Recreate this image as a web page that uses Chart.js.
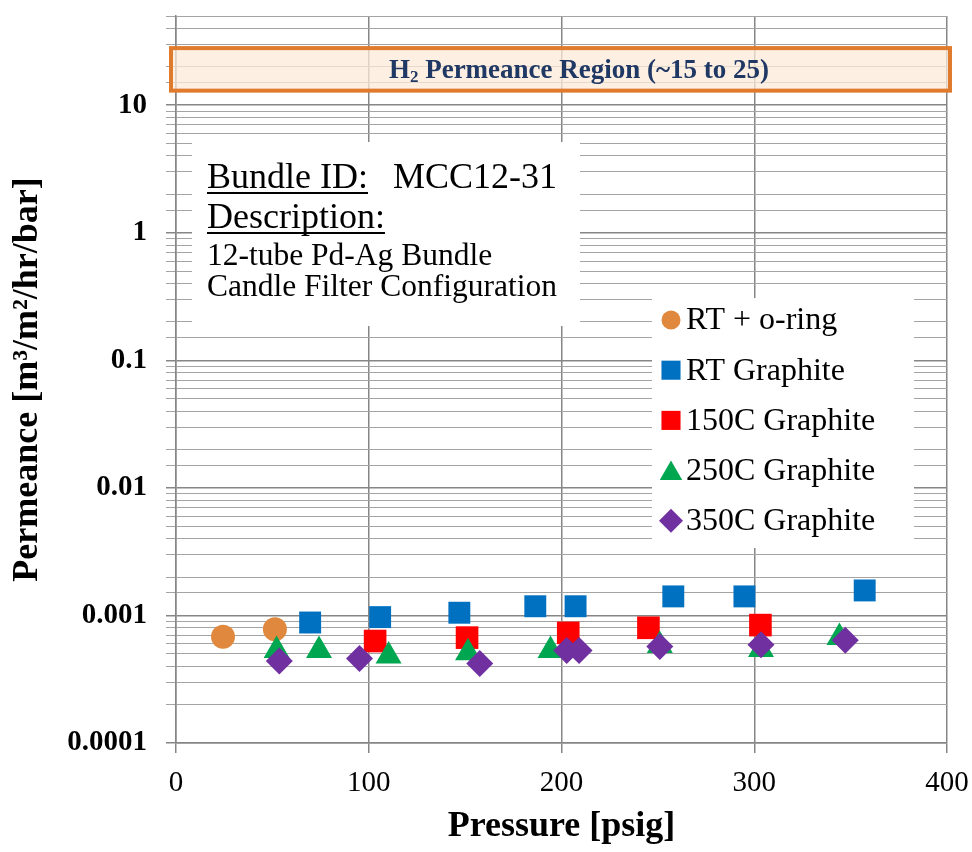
<!DOCTYPE html>
<html>
<head>
<meta charset="utf-8">
<script src="https://cdn.jsdelivr.net/npm/chart.js@4.4.1/dist/chart.umd.min.js"></script>
<style>
  body { margin: 0; background: #fff; }
  #wrap { width: 972px; height: 852px; }
</style>
</head>
<body>
<div id="wrap"><canvas id="chart" width="972" height="852"></canvas></div>
<script>
// Pressure [psig] / permeance readings per series
const oringX = [24.4, 51.3];
const oringY = [0.00068, 0.00078];
const rtGraphiteX = [69.6, 105.9, 147, 186.4, 207.3, 258, 294.9, 357.3];
const rtGraphiteY = [0.00088, 0.00097, 0.00105, 0.00118, 0.00118, 0.00141, 0.00141, 0.00157];
const g150X = [103.3, 151, 203.5, 245.1, 303.2];
const g150Y = [0.00063, 0.00067, 0.00073, 0.0008, 0.00084];
const g250X = [52.2, 74.2, 110.3, 151.5, 194.3, 251, 303.5, 344.2];
const g250Y = [0.00053, 0.00053, 0.00048, 0.00051, 0.00053, 0.00058, 0.00054, 0.00067];
const g350X = [53.6, 95.2, 157.6, 202.7, 209.1, 251, 303.5, 347.2];
const g350Y = [0.00044, 0.00046, 0.00042, 0.00053, 0.00053, 0.00057, 0.00059, 0.00064];

const seriesNames = ['RT + o-ring', 'RT Graphite', '150C Graphite', '250C Graphite', '350C Graphite'];
const yTickValues = [0.0001, 0.001, 0.01, 0.1, 1, 10];
const yTickLabels = ['0.0001', '0.001', '0.01', '0.1', '1', '10'];
const xTickValues = [0, 100, 200, 300, 400];

// H2 region band (permeance units)
const h2BandLow = 13;
const h2BandHigh = 28;
const h2BandText = 'Permeance Region (~15 to 25)';

const noteLines = ['Bundle ID:', 'MCC12-31', 'Description:', '12-tube Pd-Ag Bundle', 'Candle Filter Configuration'];

const SERIF = '"Liberation Serif", "Times New Roman", serif';

function pts(xs, ys) {
    return xs.map((x, i) => ({ x: x, y: ys[i] }));
}

function isDecade(v) {
    return yTickValues.some(t => Math.abs(v - t) / t < 1e-6);
}

// Annotation boxes + custom legend
const overlays = {
    id: 'overlays',
    beforeDatasetsDraw(chart) {
        const { ctx, chartArea, scales } = chart;
        const y = scales.y;
        ctx.save();

        // H2 permeance band
        const bTop = y.getPixelForValue(h2BandHigh);
        const bBot = y.getPixelForValue(h2BandLow);
        const bLeft = chartArea.left - 5;
        const bRight = chartArea.right + 3;
        ctx.fillStyle = 'rgba(253, 234, 218, 0.75)';
        ctx.fillRect(bLeft, bTop, bRight - bLeft, bBot - bTop);
        ctx.strokeStyle = '#E07A2C';
        ctx.lineWidth = 4;
        ctx.strokeRect(bLeft, bTop, bRight - bLeft, bBot - bTop);

        ctx.fillStyle = '#1F3864';
        ctx.textBaseline = 'alphabetic';
        const big = 'bold 27px ' + SERIF, small = 'bold 17px ' + SERIF;
        ctx.font = big;
        const hW = ctx.measureText('H').width;
        ctx.font = small;
        const subW = ctx.measureText('2').width;
        ctx.font = big;
        const restW = ctx.measureText(' ' + h2BandText).width;
        const total = hW + subW + restW;
        let tx = 579 - total / 2;
        const ty = (bTop + bBot) / 2 + 9;
        ctx.textAlign = 'left';
        ctx.fillText('H', tx, ty);
        ctx.font = small;
        ctx.fillText('2', tx + hW, ty + 4);
        ctx.font = big;
        ctx.fillText(' ' + h2BandText, tx + hW + subW, ty);

        // Bundle note box
        ctx.fillStyle = '#ffffff';
        ctx.fillRect(192, 142, 388, 184);
        ctx.fillStyle = '#000000';
        ctx.font = '36px ' + SERIF;
        ctx.fillText(noteLines[0], 207, 188);
        const idW = ctx.measureText(noteLines[0]).width;
        ctx.fillRect(207, 192, idW, 2);
        ctx.fillText(noteLines[1], 207 + idW + 25, 188);
        ctx.fillText(noteLines[2], 207, 228);
        const dW = ctx.measureText(noteLines[2]).width;
        ctx.fillRect(207, 232, dW, 2);
        ctx.font = '31.5px ' + SERIF;
        ctx.fillText(noteLines[3], 207, 265);
        ctx.fillText(noteLines[4], 207, 296);

        // legend
        ctx.fillStyle = '#ffffff';
        ctx.fillRect(652, 298, 262, 250);
        const legendSizes = [9.5, 13.5, 13.5, 13, 12];
        chart.data.datasets.forEach((ds, i) => {
            const ly = 320 + i * 50.2;
            ctx.fillStyle = ds.backgroundColor;
            ctx.strokeStyle = ds.backgroundColor;
            Chart.helpers.drawPoint(ctx, {
                pointStyle: ds.pointStyle,
                radius: legendSizes[i],
                borderWidth: 0,
                rotation: 0
            }, 671, ly + (ds.pointStyle === 'triangle' ? 3 : 0));
            ctx.fillStyle = '#000000';
            ctx.font = '32px ' + SERIF;
            ctx.textBaseline = 'middle';
            ctx.fillText(ds.label, 686, ly + 1);
            ctx.textBaseline = 'alphabetic';
        });
        ctx.restore();
    }
};

const gridGrey = '#868686';
const minorGrey = '#a4a4a4';

new Chart(document.getElementById('chart'), {
    type: 'scatter',
    data: {
        datasets: [
            { label: seriesNames[0], data: pts(oringX, oringY), pointStyle: 'circle', pointRadius: 12, backgroundColor: '#E0893E', borderColor: '#E0893E', borderWidth: 0, order: 4 },
            { label: seriesNames[1], data: pts(rtGraphiteX, rtGraphiteY), pointStyle: 'rect', pointRadius: 15.5, backgroundColor: '#0070C0', borderColor: '#0070C0', borderWidth: 0, order: 3 },
            { label: seriesNames[2], data: pts(g150X, g150Y), pointStyle: 'rect', pointRadius: 16, backgroundColor: '#FF0000', borderColor: '#FF0000', borderWidth: 0, order: 2 },
            { label: seriesNames[3], data: pts(g250X, g250Y), pointStyle: 'triangle', pointRadius: 15, backgroundColor: '#00A650', borderColor: '#00A650', borderWidth: 0, order: 1 },
            { label: seriesNames[4], data: pts(g350X, g350Y), pointStyle: 'rectRot', pointRadius: 13.5, backgroundColor: '#7030A0', borderColor: '#7030A0', borderWidth: 0, order: 0 }
        ]
    },
    options: {
        responsive: false,
        animation: false,
        layout: { padding: { top: 8, right: 25, left: 0, bottom: 0 } },
        plugins: {
            legend: { display: false },
            tooltip: { enabled: false }
        },
        scales: {
            x: {
                type: 'linear',
                min: 0,
                max: 400,
                afterFit: (scale) => {
                    scale.height = 109;
                    scale.paddingLeft = 0;
                    scale.paddingRight = 0;
                },
                afterBuildTicks: (scale) => { scale.ticks = xTickValues.map(v => ({ value: v })); },
                ticks: {
                    color: '#000',
                    font: { family: SERIF, size: 29 },
                    padding: 13
                },
                grid: { color: gridGrey, lineWidth: 1.5, tickLength: 10, tickColor: gridGrey },
                border: { color: gridGrey, width: 1.5 },
                title: {
                    display: true,
                    text: 'Pressure [psig]',
                    color: '#000',
                    font: { family: SERIF, size: 36, weight: 'bold' },
                    padding: { top: -4 }
                }
            },
            y: {
                type: 'logarithmic',
                min: 0.0001,
                max: 50,
                afterFit: (scale) => {
                    scale.width = 176;
                    scale.paddingTop = 0;
                    scale.paddingBottom = 0;
                },
                ticks: {
                    autoSkip: false,
                    color: '#000',
                    font: { family: SERIF, size: 29, weight: 'bold' },
                    padding: 19,
                    callback: function (value) {
                        const idx = yTickValues.findIndex(t => Math.abs(value - t) / t < 1e-6);
                        return idx >= 0 ? yTickLabels[idx] : '';
                    }
                },
                grid: {
                    color: (c) => (c.tick && isDecade(c.tick.value)) ? gridGrey : minorGrey,
                    lineWidth: (c) => (c.tick && isDecade(c.tick.value)) ? 1.5 : 1,
                    tickLength: 10,
                    tickColor: (c) => (c.tick && isDecade(c.tick.value)) ? gridGrey : minorGrey
                },
                border: { color: gridGrey, width: 1.5 },
                title: {
                    display: true,
                    text: 'Permeance [m³/m²/hr/bar]',
                    color: '#000',
                    font: { family: SERIF, size: 36, weight: 'bold' },
                    padding: { top: 6 }
                }
            }
        }
    },
    plugins: [overlays]
});
</script>
</body>
</html>
